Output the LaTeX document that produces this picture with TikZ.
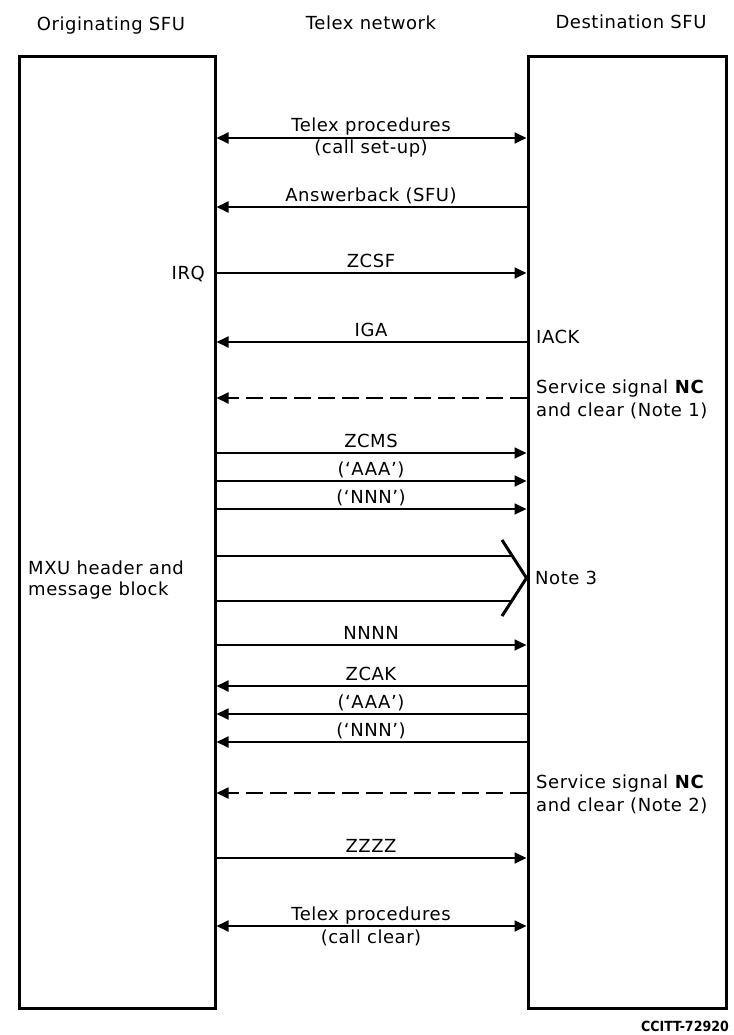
\documentclass[tikz,border=0pt]{standalone}
\usepackage{fontspec}
\setmainfont[LetterSpace=3]{DejaVu Sans}
\newfontfamily\codefont{DejaVu Sans Condensed}
\usetikzlibrary{arrows.meta}
\begin{document}
\begin{tikzpicture}[x=1pt,y=-1pt,
  box/.style={draw, line width=3pt, inner sep=0pt},
  sig/.style={line width=1.8pt},
  fwd/.style={sig,-{Triangle[length=12pt,width=11pt]}},
  both/.style={sig,{Triangle[length=12pt,width=11pt]}-{Triangle[length=12pt,width=11pt]}},
  dsh/.style={fwd,dash pattern=on 17pt off 7pt},
  chev/.style={line width=3pt, line join=miter},
  txt/.style={inner sep=0pt, font=\fontsize{18}{21}\selectfont},
  lbl/.style={txt, anchor=base},
  lft/.style={txt, anchor=base west},
  rgt/.style={txt, anchor=base east},
]
\useasboundingbox (0,0) rectangle (733,1035);

% headers
\node[lbl] (hO) at (111,31) {Originating SFU};
\node[lbl] (hT) at (371,30) {Telex network};
\node[lbl] (hD) at (631,29) {Destination SFU};

% boxes
\node[box, minimum width=196pt, minimum height=951pt] (L) at (117,532.5) {};
\node[box, minimum width=198pt, minimum height=951pt] (R) at (627,532.5) {};

% call set-up
\draw[both] (L.east |- 0,138) -- (R.west |- 0,138);
\node[lbl] (t1) at (371,132) {Telex procedures};
\node[lbl] (t1b) at (371,154) {(call set-up)};

% answerback
\draw[fwd] (R.west |- 0,207) -- (L.east |- 0,207);
\node[lbl] (ab) at (371,201) {Answerback (SFU)};

% ZCSF
\draw[fwd] (L.east |- 0,273) -- (R.west |- 0,273);
\node[lbl] (zcsf) at (371,267) {ZCSF};
\node[rgt] (irq) at (205,279) {IRQ};

% IGA
\draw[fwd] (R.west |- 0,342) -- (L.east |- 0,342);
\node[lbl] (iga) at (371,336) {IGA};
\node[lft] (iack) at (536,343) {IACK};

% service signal 1
\draw[dsh] (R.west |- 0,398) -- (L.east |- 0,398);
\node[lft] (n1a) at (536,393) {Service signal \textbf{NC}};
\node[lft] (n1b) at (536,416) {and clear (Note 1)};

% ZCMS group
\draw[fwd] (L.east |- 0,453) -- (R.west |- 0,453);
\node[lbl] (zcms) at (371,447) {ZCMS};
\draw[fwd] (L.east |- 0,481) -- (R.west |- 0,481);
\node[lbl] (aaa1) at (371,475) {(‘AAA’)};
\draw[fwd] (L.east |- 0,509) -- (R.west |- 0,509);
\node[lbl] (nnn1) at (371,503) {(‘NNN’)};

% MXU block (broad arrow)
\coordinate (cT) at (502,540);
\coordinate (cB) at (502,616);
\draw[sig] (L.east |- 0,556) -- (512,556);
\draw[sig] (L.east |- 0,601) -- (512,601);
\draw[chev] (cT) -- (R.west |- 0,578) -- (cB);
\node[lft] (mxa) at (28,574) {MXU header and};
\node[lft] (mxb) at (28,595) {message block};
\node[lft] (n3) at (535,584) {Note 3};

% NNNN
\draw[fwd] (L.east |- 0,645) -- (R.west |- 0,645);
\node[lbl] (nnnn) at (371,639) {NNNN};

% ZCAK group
\draw[fwd] (R.west |- 0,686) -- (L.east |- 0,686);
\node[lbl] (zcak) at (371,680) {ZCAK};
\draw[fwd] (R.west |- 0,714) -- (L.east |- 0,714);
\node[lbl] (aaa2) at (371,708) {(‘AAA’)};
\draw[fwd] (R.west |- 0,742) -- (L.east |- 0,742);
\node[lbl] (nnn2) at (371,736) {(‘NNN’)};

% service signal 2
\draw[dsh] (R.west |- 0,793) -- (L.east |- 0,793);
\node[lft] (n2a) at (536,788) {Service signal \textbf{NC}};
\node[lft] (n2b) at (536,811) {and clear (Note 2)};

% ZZZZ
\draw[fwd] (L.east |- 0,858) -- (R.west |- 0,858);
\node[lbl] (zzzz) at (371,852) {ZZZZ};

% call clear
\draw[both] (L.east |- 0,926) -- (R.west |- 0,926);
\node[lbl] (t2) at (371,920) {Telex procedures};
\node[lbl] (t2b) at (371,943) {(call clear)};

% figure code
\node[inner sep=0pt, anchor=base east, font=\codefont\bfseries\fontsize{14}{16}\selectfont] (cc) at (729,1031) {CCITT-72920};
\end{tikzpicture}
\end{document}
